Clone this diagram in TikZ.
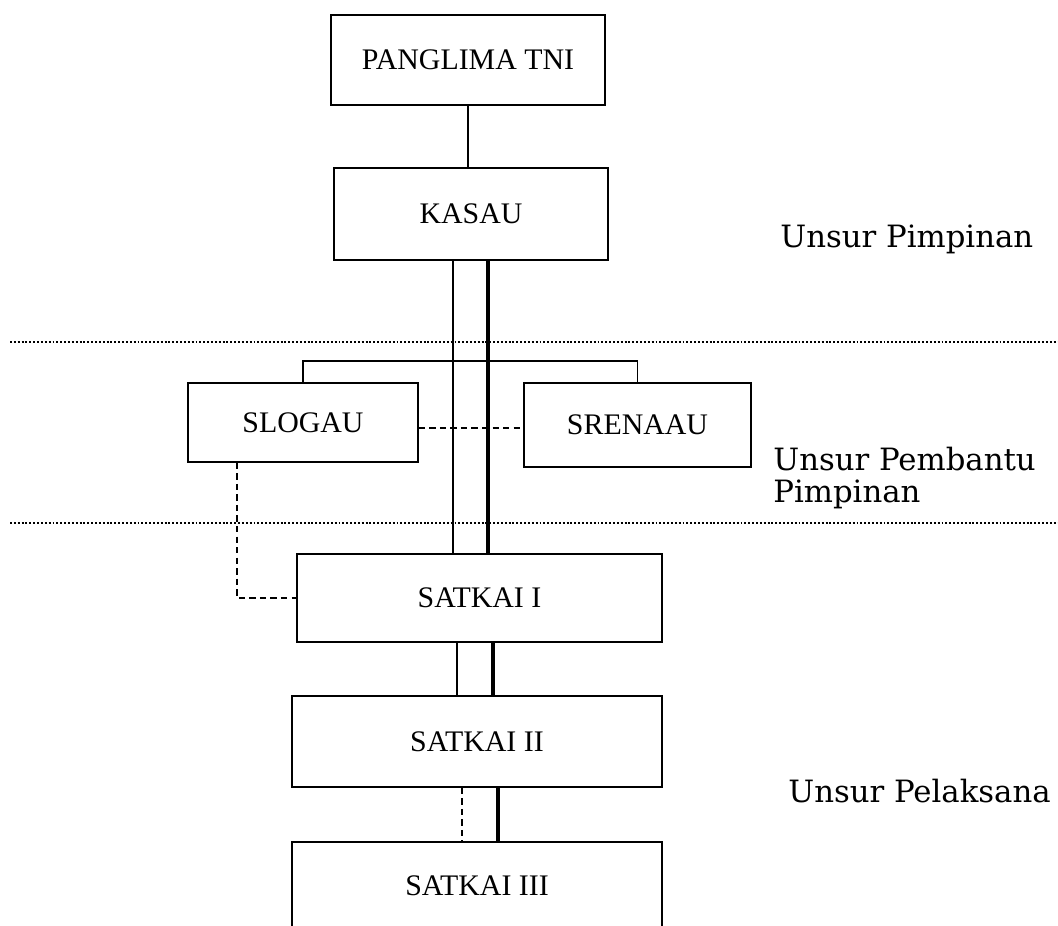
\documentclass[tikz,border=0pt]{standalone}
\usepackage{fontspec}
\newfontfamily\labfont{DejaVu Serif}
\newfontfamily\boxfont{Liberation Serif}
\usetikzlibrary{calc,positioning}

\begin{document}
\begin{tikzpicture}[x=0.02cm,y=-0.02cm,
  box/.style={draw=black,line width=0.9pt,inner sep=0pt,font=\boxfont\fontsize{17}{20}\selectfont},
  thinline/.style={line width=0.9pt},
  thickline/.style={line width=2pt},
  dashline/.style={line width=0.8pt,dash pattern=on 3.6pt off 2.4pt},
  sepline/.style={line width=1.4pt,dash pattern=on 1.1pt off 1.1pt},
  unsur/.style={anchor=base west,inner sep=0pt,align=left,font=\labfont\fontsize{17.5}{18.1}\selectfont}]
\clip (0,0) rectangle (1058,926);

% kotak
\node[box,minimum width=5.48cm,minimum height=1.8cm] (panglima) at (468,60) {PANGLIMA TNI};
\node[box,minimum width=5.48cm,minimum height=1.84cm] (kasau) at (471,214) {KASAU};
\node[box,minimum width=4.6cm,minimum height=1.58cm] (slogau) at (303,422.5) {SLOGAU};
\node[box,minimum width=4.54cm,minimum height=1.68cm] (srenaau) at (637.5,425) {SRENAAU};
\node[box,minimum width=7.3cm,minimum height=1.76cm] (satkai1) at (479.5,598) {SATKAI I};
\node[box,minimum width=7.4cm,minimum height=1.82cm] (satkai2) at (477,741.5) {SATKAI II};
\node[box,minimum width=7.4cm,minimum height=1.76cm] (satkai3) at (477,886) {SATKAI III};

% keterangan
\node[unsur] (pimpinan) at (780,247) {Unsur Pimpinan};
\node[unsur] (pembantu) at (773,502) {Unsur Pembantu\\Pimpinan};
\node[unsur] (pelaksana) at (788,802) {Unsur Pelaksana};

% garis pemisah
\draw[sepline] (10,342) -- (1058,342);
\draw[sepline] (10,523) -- (1058,523);

% garis komando
\draw[thinline] (panglima.south) -- (panglima.south |- kasau.north);
\draw[thinline] ($(kasau.south)+(-18,0)$) coordinate (k1) -- (k1 |- satkai1.north);
\draw[thickline] ($(kasau.south)+(17,0)$) coordinate (k2) -- (k2 |- satkai1.north);
\draw[thinline] (slogau.north) -- ++(0,-21) -| (srenaau.north);
\draw[thinline] ($(satkai1.south)+(-22.5,0)$) coordinate (s1) -- (s1 |- satkai2.north);
\draw[thickline] ($(satkai1.south)+(13.5,0)$) coordinate (s2) -- (s2 |- satkai2.north);
\draw[dashline] ($(satkai2.south)+(-15,0)$) coordinate (s3) -- (s3 |- satkai3.north);
\draw[thickline] ($(satkai2.south)+(21,0)$) coordinate (s4) -- (s4 |- satkai3.north);

% garis koordinasi
\draw[dashline] ($(slogau.east)+(0,5.5)$) coordinate (c1) -- (c1 -| srenaau.west);
\draw[dashline] ($(slogau.south)+(-66,0)$) |- (satkai1.west);
\end{tikzpicture}
\end{document}
